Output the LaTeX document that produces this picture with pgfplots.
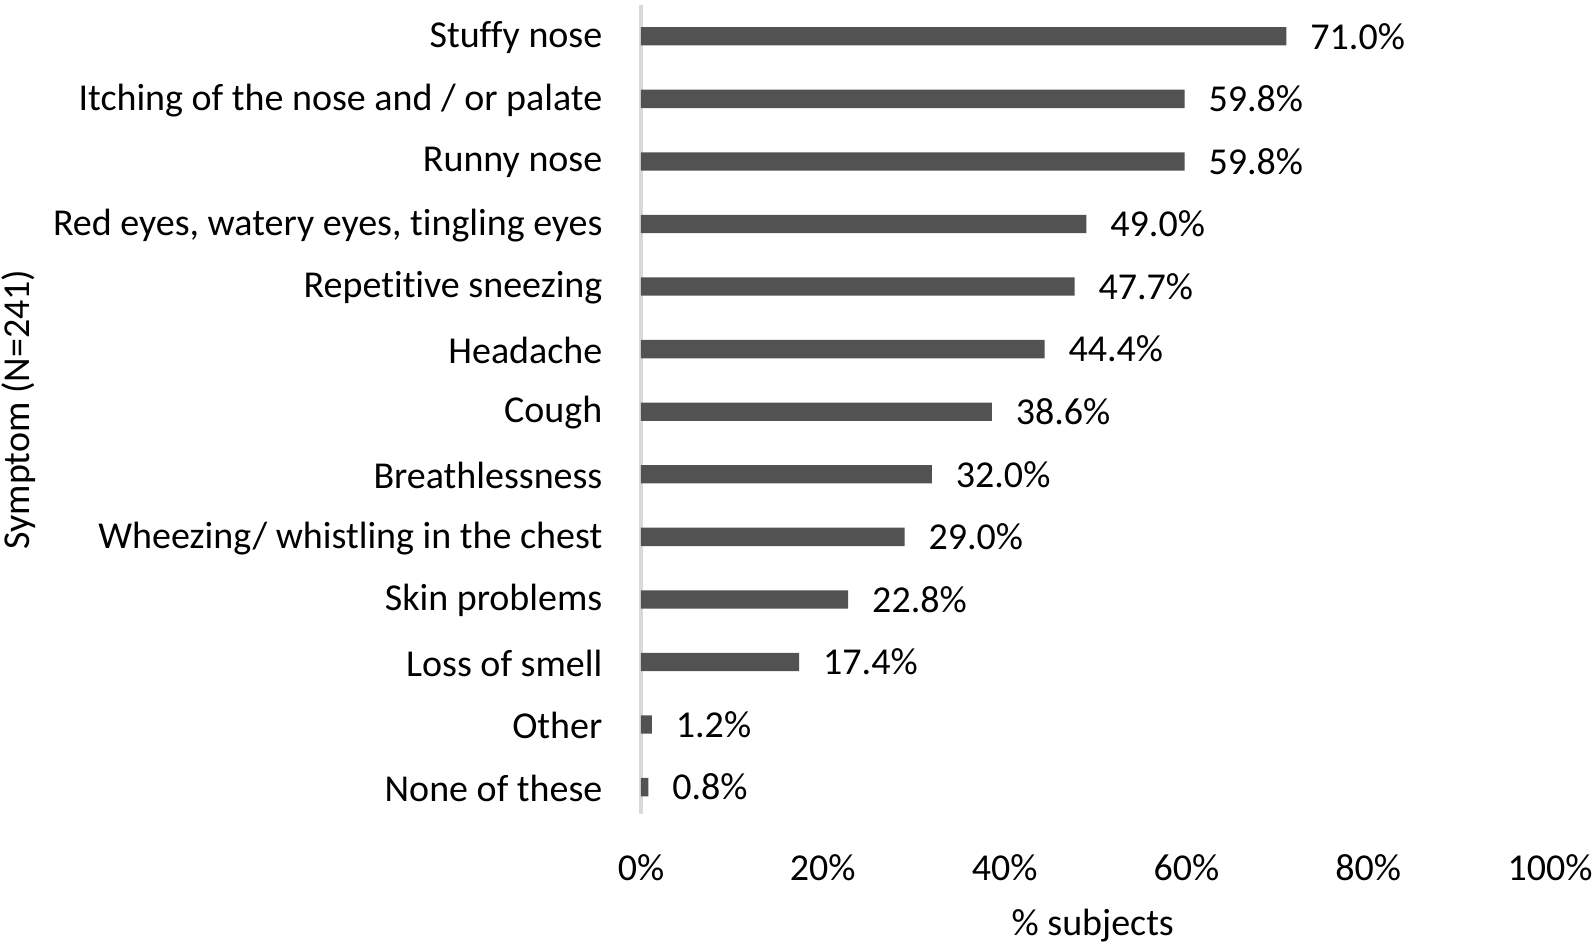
\documentclass[border=0pt]{standalone}
\usepackage{fontspec}
\setmainfont{Carlito}[Ligatures=NoCommon]
\usepackage{pgfplots}
\pgfplotsset{compat=1.18}
\definecolor{bargray}{HTML}{525252}
\definecolor{axgray}{HTML}{D9D9D9}

\begin{document}
\fontsize{11.4pt}{13.5pt}\selectfont
\begin{tikzpicture}
\begin{axis}[
  name=ax, at={(0,0)}, anchor=south west,
  scale only axis,
  width=272.7pt, height=242.7pt,
  xbar, bar width=5.5pt,
  xmin=0, xmax=100,
  ymin=-0.5, ymax=12.43,
  y dir=reverse,
  xtick={0,20,40,60,80,100},
  xticklabel={\pgfmathprintnumber{\tick}\%},
  /pgf/number format/assume math mode=true,
  ytick={0,...,12},
  yticklabels={Stuffy nose, Itching of the nose and / or palate, Runny nose,
    {Red eyes, watery eyes, tingling eyes}, Repetitive sneezing, Headache,
    Cough, Breathlessness, Wheezing/ whistling in the chest, Skin problems,
    Loss of smell, Other, None of these},
  major tick length=0pt,
  axis x line*=bottom, x axis line style={draw=none},
  axis y line*=left, y axis line style={draw=axgray, line width=1pt},
  xticklabel style={anchor=center, yshift=-16.2pt, inner sep=0pt},
  yticklabel style={anchor=east, inner sep=0pt, xshift=-11.4pt, yshift=-0.4pt},
  xlabel={\% subjects},
  xlabel style={at={(axis description cs:0.497,-0.138)}, anchor=center},
  ylabel={Symptom (N=241)},
  ylabel style={at={(axis description cs:-0.685,0.5)}, anchor=center},
  nodes near coords={\pgfmathprintnumber[fixed, fixed zerofill, precision=1]{\pgfplotspointmeta}\%},
  nodes near coords style={anchor=west, inner sep=0pt, xshift=7pt, text=black},
  point meta=x,
]
\addplot[fill=bargray, draw=none] coordinates {
  (71.0,0) (59.8,1) (59.8,2) (49.0,3) (47.7,4) (44.4,5) (38.6,6)
  (32.0,7) (29.0,8) (22.8,9) (17.4,10) (1.2,11) (0.8,12)
};
\end{axis}
\pgfresetboundingbox
\path[use as bounding box] (-192.3pt,-40.5pt) rectangle (286.2pt,244.2pt);
\end{tikzpicture}
\end{document}
